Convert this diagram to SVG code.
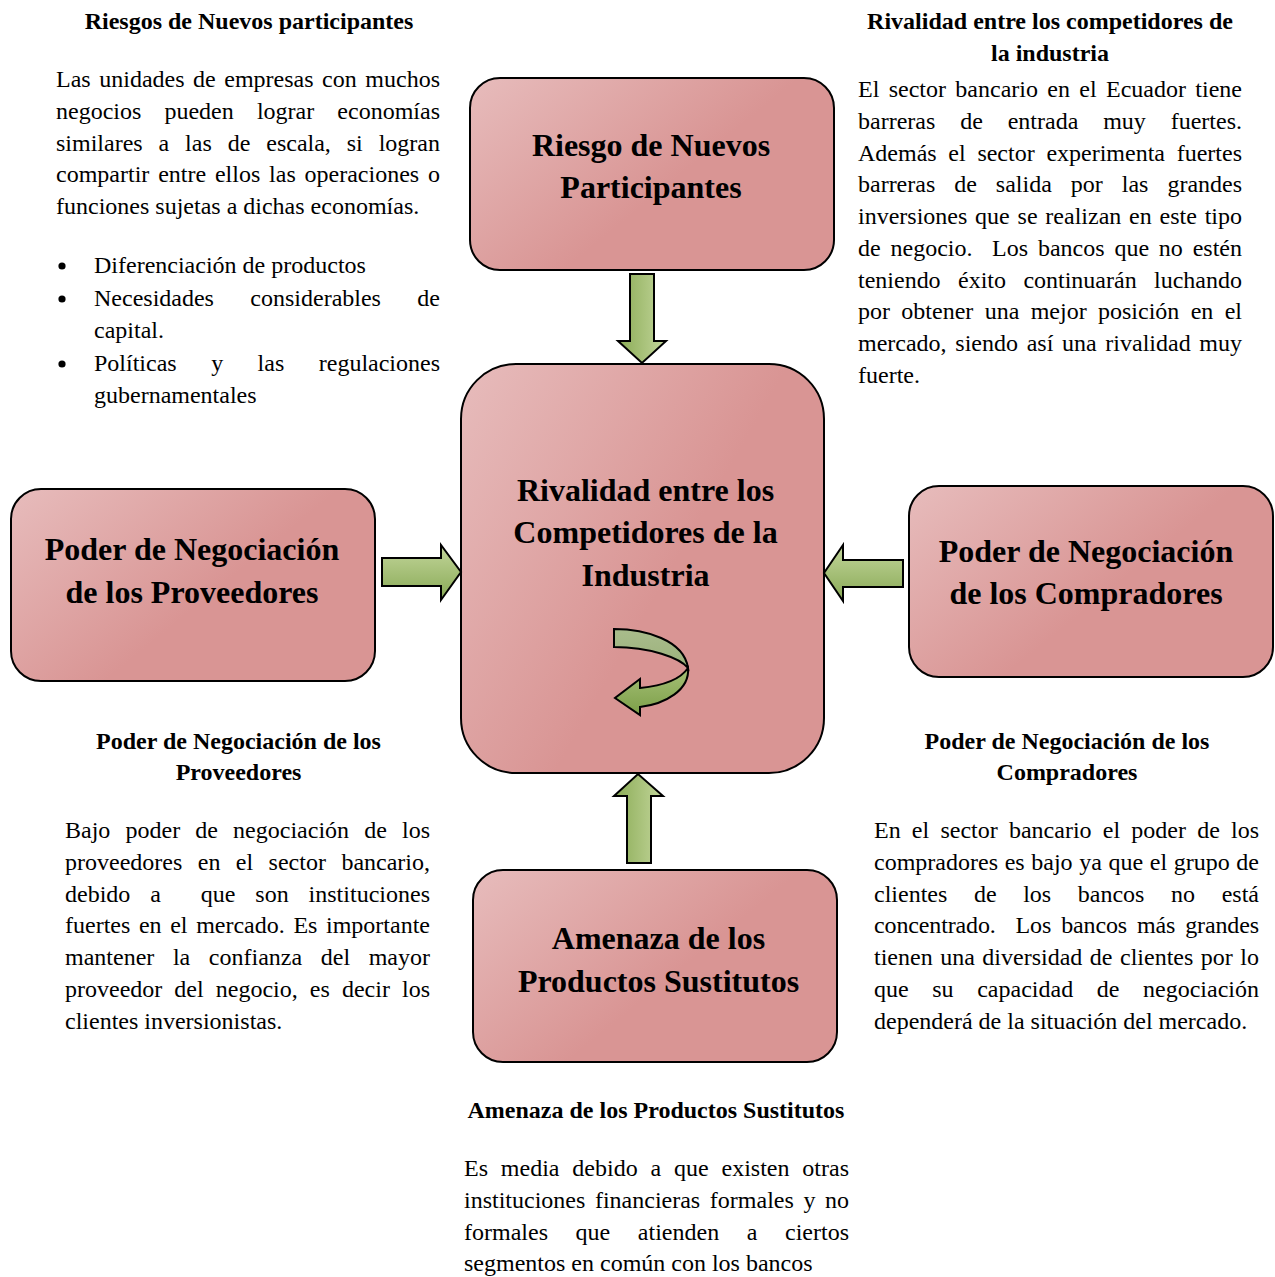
<svg xmlns="http://www.w3.org/2000/svg" width="1275" height="1277" viewBox="0 0 1275 1277">
<defs>
<linearGradient id="pink" x1="0" y1="0" x2="0.85" y2="0.55">
<stop offset="0" stop-color="#e7bcbc"/>
<stop offset="0.75" stop-color="#d99594"/>
<stop offset="1" stop-color="#d99594"/>
</linearGradient>
<linearGradient id="gV" x1="0" y1="0" x2="1" y2="0">
<stop offset="0" stop-color="#8aab55"/>
<stop offset="1" stop-color="#c3d69b"/>
</linearGradient>
<linearGradient id="gH" x1="0" y1="0" x2="0" y2="1">
<stop offset="0" stop-color="#c3d69b"/>
<stop offset="1" stop-color="#88a955"/>
</linearGradient>
<linearGradient id="gC1" x1="0" y1="0" x2="0" y2="1">
<stop offset="0" stop-color="#a9bc8c"/>
<stop offset="1" stop-color="#9cb27c"/>
</linearGradient>
<linearGradient id="gC2" x1="0" y1="0" x2="0" y2="1">
<stop offset="0" stop-color="#a6c077"/>
<stop offset="1" stop-color="#7c9f48"/>
</linearGradient>
</defs>
<style>
.box{fill:url(#pink);stroke:#000;stroke-width:2}
.t{font-family:"Liberation Serif","Times New Roman",serif;font-weight:bold;font-size:32px;text-anchor:middle;fill:#000}
.h{font-family:"Liberation Serif","Times New Roman",serif;font-weight:bold;font-size:24px;text-anchor:middle;fill:#000}
.p{font-family:"Liberation Serif","Times New Roman",serif;font-size:24px;fill:#000}
.arr{stroke:#000;stroke-width:2;stroke-linejoin:miter}
</style>
<rect width="1275" height="1277" fill="#fff"/>

<g id="node-riesgo">
<rect class="box" x="470" y="78" width="364" height="192" rx="30"/>
<text class="t" x="651" y="156">Riesgo de Nuevos</text>
<text class="t" x="651" y="198">Participantes</text>
</g>

<g id="node-rivalidad">
<rect class="box" x="461" y="364" width="363" height="409" rx="55"/>
<text class="t" x="645.5" y="501">Rivalidad entre los</text>
<text class="t" x="645.5" y="543">Competidores de la</text>
<text class="t" x="645.5" y="586">Industria</text>
<path class="arr" fill="url(#gC1)" d="M614,629 C645,629 684,640 688,668 C680,658 650,647 614,647 Z"/>
<path class="arr" fill="url(#gC2)" d="M688,668 C690,690 665,704 640,707 L640,715 L615,698 L640,679 L640,688 C660,686 680,680 688,668 Z"/>
</g>

<g id="node-proveedores">
<rect class="box" x="11" y="489" width="364" height="192" rx="30"/>
<text class="t" x="192" y="560">Poder de Negociación</text>
<text class="t" x="192" y="603">de los Proveedores</text>
</g>

<g id="node-compradores">
<rect class="box" x="909" y="486" width="364" height="191" rx="30"/>
<text class="t" x="1086" y="562">Poder de Negociación</text>
<text class="t" x="1086" y="604">de los Compradores</text>
</g>

<g id="node-sustitutos">
<rect class="box" x="473" y="870" width="364" height="192" rx="30"/>
<text class="t" x="658.5" y="949">Amenaza de los</text>
<text class="t" x="658.5" y="992">Productos Sustitutos</text>
</g>

<g id="connectors">
<polygon class="arr" fill="url(#gV)" points="630,274 654,274 654,341 666,341 642,363 618,341 630,341"/>
<polygon class="arr" fill="url(#gH)" points="382,558 441,558 441,545 461,572 441,600 441,586 382,586"/>
<polygon class="arr" fill="url(#gH)" points="903,560 843,560 843,545 824,573 843,601 843,587 903,587"/>
<polygon class="arr" fill="url(#gV)" points="627,863 651,863 651,796 663,796 638,774 614,796 627,796"/>
</g>

<g id="text-riesgos">
<text class="h" x="249" y="29">Riesgos de Nuevos participantes</text>
<text class="p" x="56" y="87" word-spacing="2.5" textLength="384" lengthAdjust="spacing">Las unidades de empresas con muchos</text>
<text class="p" x="56" y="118.75" word-spacing="17.1" textLength="384" lengthAdjust="spacing">negocios pueden lograr economías</text>
<text class="p" x="56" y="150.5" word-spacing="9.9" textLength="384" lengthAdjust="spacing">similares a las de escala, si logran</text>
<text class="p" x="56" y="182.25" word-spacing="2.8" textLength="384" lengthAdjust="spacing">compartir entre ellos las operaciones o</text>
<text class="p" x="56" y="214">funciones sujetas a dichas economías.</text>
<circle cx="62" cy="266" r="3.6"/>
<circle cx="62" cy="299" r="3.6"/>
<circle cx="62" cy="364" r="3.6"/>
<text class="p" x="94" y="273">Diferenciación de productos</text>
<text class="p" x="94" y="306" word-spacing="30.4" textLength="346" lengthAdjust="spacing">Necesidades considerables de</text>
<text class="p" x="94" y="338">capital.</text>
<text class="p" x="94" y="371" word-spacing="28.5" textLength="346" lengthAdjust="spacing">Políticas y las regulaciones</text>
<text class="p" x="94" y="403">gubernamentales</text>
</g>

<g id="text-rivalidad">
<text class="h" x="1050" y="29">Rivalidad entre los competidores de</text>
<text class="h" x="1050" y="61">la industria</text>
<text class="p" x="858" y="97" word-spacing="3.35" textLength="384" lengthAdjust="spacing">El sector bancario en el Ecuador tiene</text>
<text class="p" x="858" y="128.75" word-spacing="18.9" textLength="384" lengthAdjust="spacing">barreras de entrada muy fuertes.</text>
<text class="p" x="858" y="160.5" word-spacing="5.7" textLength="384" lengthAdjust="spacing">Además el sector experimenta fuertes</text>
<text class="p" x="858" y="192.25" word-spacing="13" textLength="384" lengthAdjust="spacing">barreras de salida por las grandes</text>
<text class="p" x="858" y="224" word-spacing="1.8" textLength="384" lengthAdjust="spacing">inversiones que se realizan en este tipo</text>
<text class="p" x="858" y="255.75" word-spacing="3.8" textLength="384" lengthAdjust="spacing">de negocio.&#160; Los bancos que no estén</text>
<text class="p" x="858" y="287.5" word-spacing="11.4" textLength="384" lengthAdjust="spacing">teniendo éxito continuarán luchando</text>
<text class="p" x="858" y="319.25" word-spacing="5.35" textLength="384" lengthAdjust="spacing">por obtener una mejor posición en el</text>
<text class="p" x="858" y="351" word-spacing="2.7" textLength="384" lengthAdjust="spacing">mercado, siendo así una rivalidad muy</text>
<text class="p" x="858" y="382.75">fuerte.</text>
</g>

<g id="text-proveedores">
<text class="h" x="238.5" y="749">Poder de Negociación de los</text>
<text class="h" x="238.5" y="780">Proveedores</text>
<text class="p" x="65" y="838" word-spacing="9.1" textLength="365" lengthAdjust="spacing">Bajo poder de negociación de los</text>
<text class="p" x="65" y="869.75" word-spacing="9.45" textLength="365" lengthAdjust="spacing">proveedores en el sector bancario,</text>
<text class="p" x="65" y="901.5" word-spacing="13.9" textLength="365" lengthAdjust="spacing">debido a&#160; que son instituciones</text>
<text class="p" x="65" y="933.25" word-spacing="2.6" textLength="365" lengthAdjust="spacing">fuertes en el mercado. Es importante</text>
<text class="p" x="65" y="965" word-spacing="12.6" textLength="365" lengthAdjust="spacing">mantener la confianza del mayor</text>
<text class="p" x="65" y="996.75" word-spacing="6.1" textLength="365" lengthAdjust="spacing">proveedor del negocio, es decir los</text>
<text class="p" x="65" y="1028.5">clientes inversionistas.</text>
</g>

<g id="text-compradores">
<text class="h" x="1067" y="749">Poder de Negociación de los</text>
<text class="h" x="1067" y="780">Compradores</text>
<text class="p" x="874" y="838" word-spacing="5.2" textLength="385" lengthAdjust="spacing">En el sector bancario el poder de los</text>
<text class="p" x="874" y="869.75" word-spacing="0.6" textLength="385" lengthAdjust="spacing">compradores es bajo ya que el grupo de</text>
<text class="p" x="874" y="901.5" word-spacing="20.6" textLength="385" lengthAdjust="spacing">clientes de los bancos no está</text>
<text class="p" x="874" y="933.25" word-spacing="4.1" textLength="385" lengthAdjust="spacing">concentrado.&#160; Los bancos más grandes</text>
<text class="p" x="874" y="965" word-spacing="1.5" textLength="385" lengthAdjust="spacing">tienen una diversidad de clientes por lo</text>
<text class="p" x="874" y="996.75" word-spacing="17.6" textLength="385" lengthAdjust="spacing">que su capacidad de negociación</text>
<text class="p" x="874" y="1028.5">dependerá de la situación del mercado.</text>
</g>

<g id="text-sustitutos">
<text class="h" x="656" y="1118">Amenaza de los Productos Sustitutos</text>
<text class="p" x="464" y="1176" word-spacing="6.85" textLength="385" lengthAdjust="spacing">Es media debido a que existen otras</text>
<text class="p" x="464" y="1207.75" word-spacing="3.6" textLength="385" lengthAdjust="spacing">instituciones financieras formales y no</text>
<text class="p" x="464" y="1239.5" word-spacing="21.6" textLength="385" lengthAdjust="spacing">formales que atienden a ciertos</text>
<text class="p" x="464" y="1271.25">segmentos en común con los bancos</text>
</g>
</svg>
